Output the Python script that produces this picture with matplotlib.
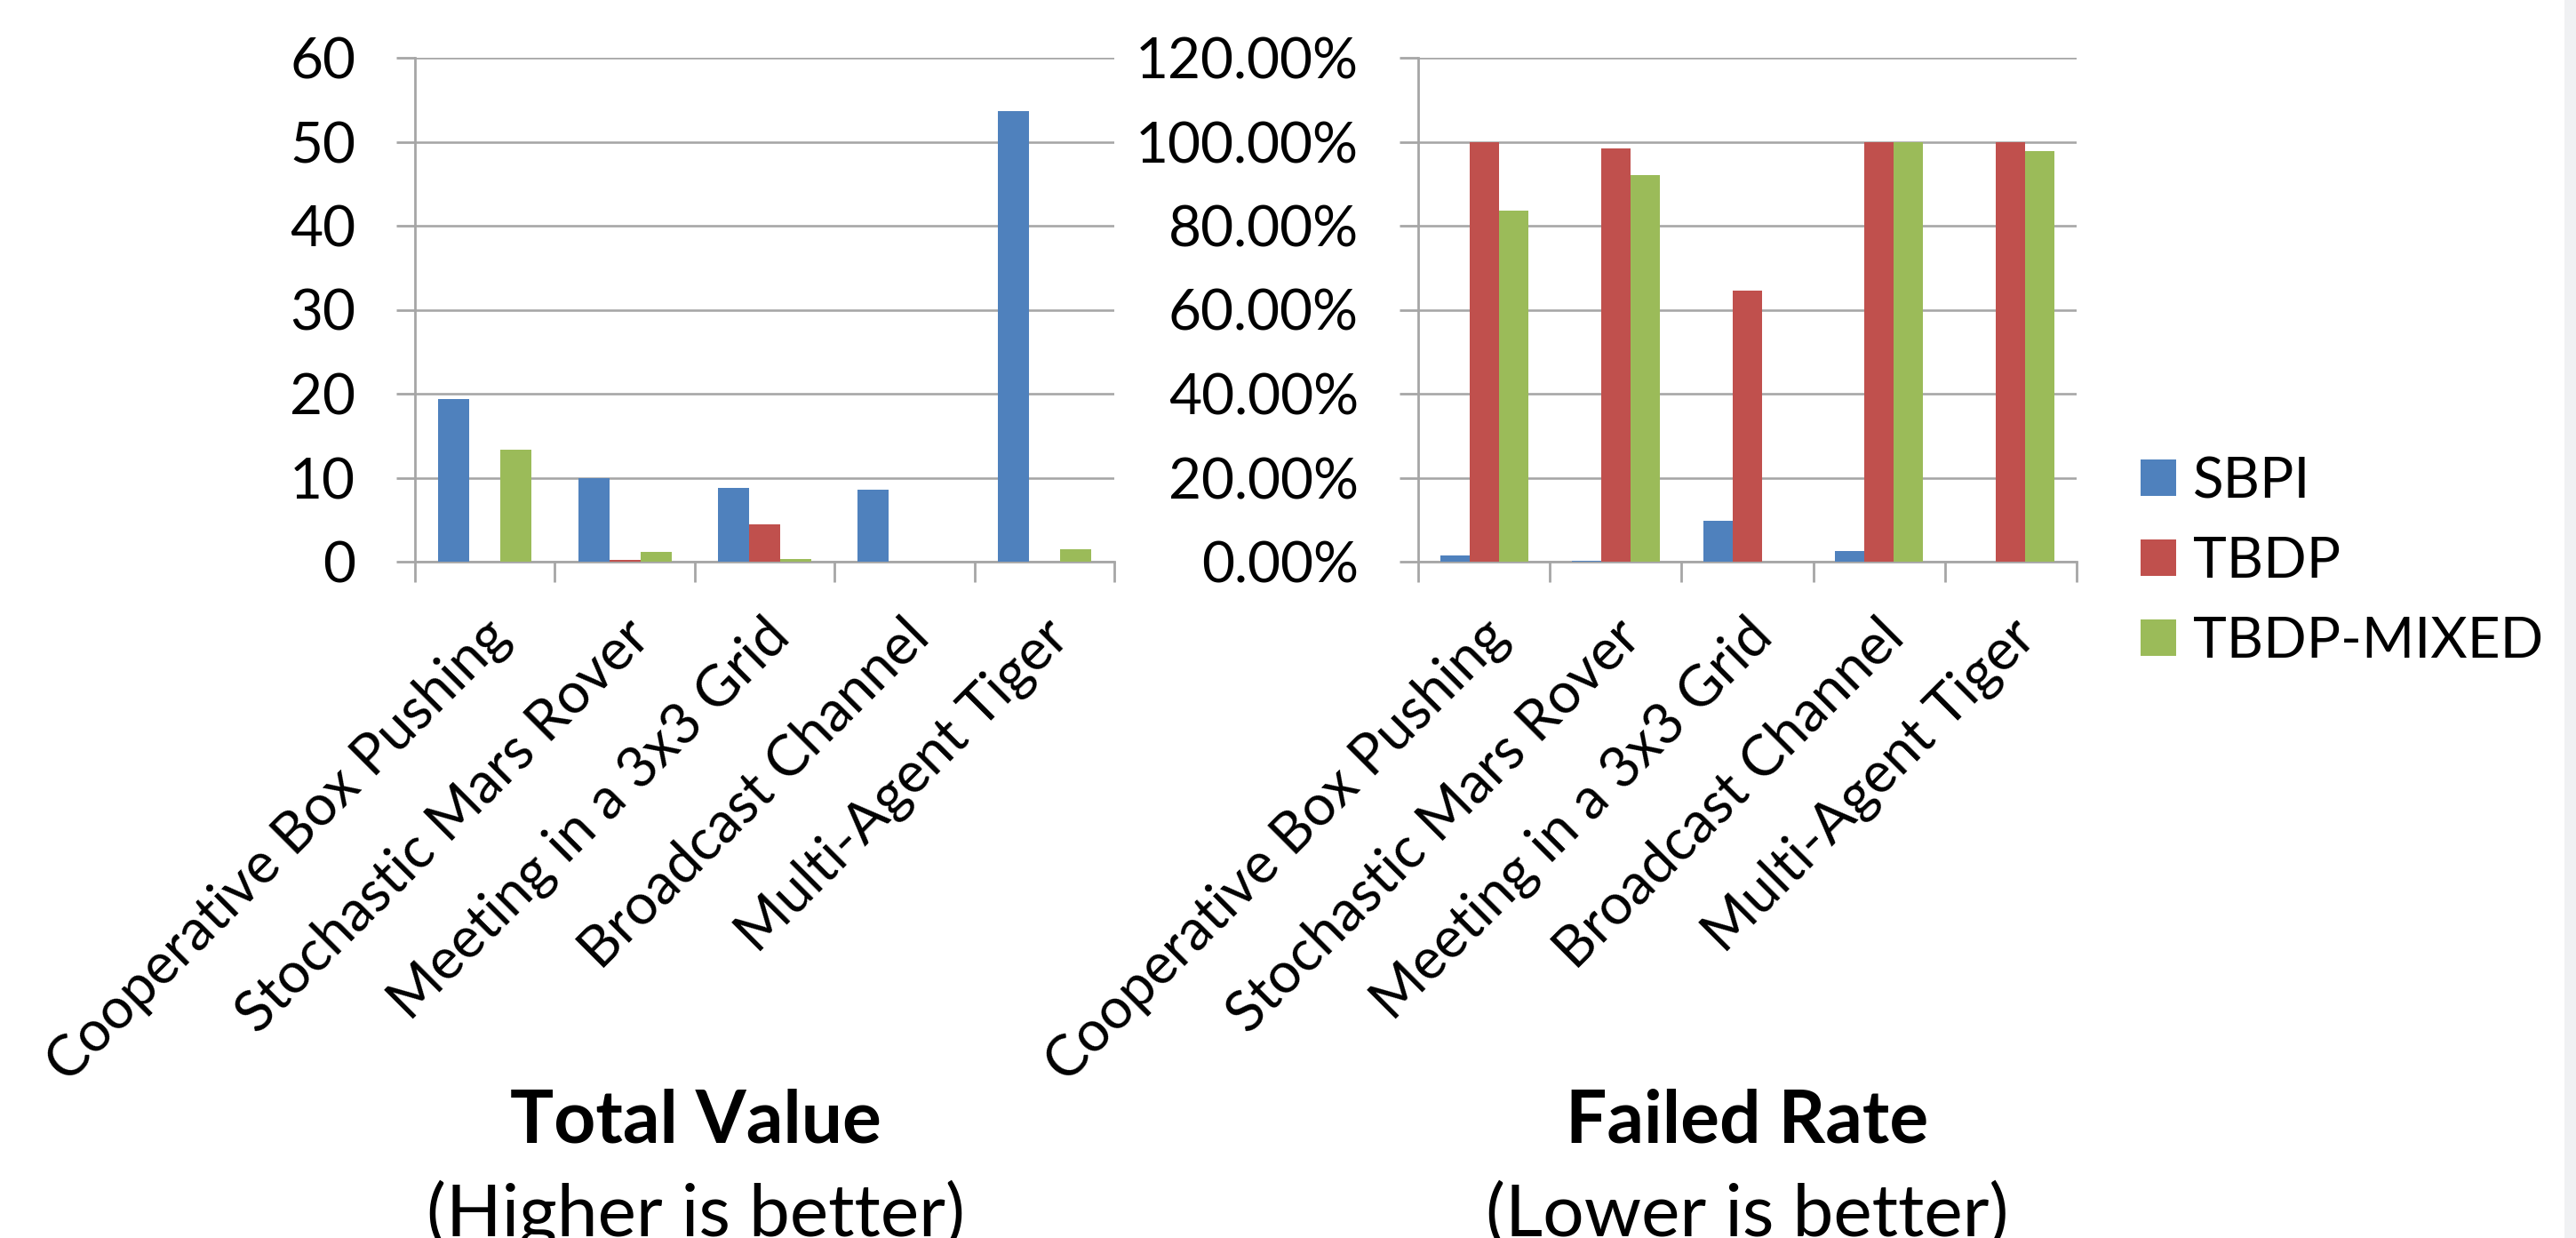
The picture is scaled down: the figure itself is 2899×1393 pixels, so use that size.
import matplotlib
matplotlib.use("Agg")
import matplotlib.pyplot as plt
from matplotlib.patches import Patch, Rectangle
from matplotlib.ticker import FuncFormatter, FixedLocator
import numpy as np

plt.rcParams['font.family'] = ['Lato', 'DejaVu Sans']

# ---- data ----
domains = ["Cooperative Box Pushing", "Stochastic Mars Rover",
           "Meeting in a 3x3 Grid", "Broadcast Channel", "Multi-Agent Tiger"]
series_names = ["SBPI", "TBDP", "TBDP-MIXED"]

total_sbpi = [19.4, 10.0, 8.8, 8.6, 53.6]
total_tbdp = [0.0, 0.18, 4.4, 0.0, 0.0]
total_mixed = [13.3, 1.15, 0.3, 0.0, 1.45]

fail_sbpi = [0.015, 0.003, 0.098, 0.026, 0.0]
fail_tbdp = [1.0, 0.985, 0.645, 1.0, 1.0]
fail_mixed = [0.835, 0.92, 0.0, 1.0, 0.978]

total_ticks = [0, 10, 20, 30, 40, 50, 60]
fail_ticks = [0.0, 0.2, 0.4, 0.6, 0.8, 1.0, 1.2]

colors = ["#4F81BD", "#C0504D", "#9BBB59"]
grid_gray = "#A6A6A6"

W, H = 2899, 1393
DPI = 100
fig = plt.figure(figsize=(W / DPI, H / DPI), dpi=DPI)
fig.patch.set_facecolor("white")

FS = 46          # tick / legend font size (pt)
PX = 72 / DPI    # points per pixel


def fig_rect(x0, x1, y_top, y_bot):
    return [x0 / W, 1 - y_bot / H, (x1 - x0) / W, (y_bot - y_top) / H]


def style_axes(ax, ticks, fmt):
    n = len(domains)
    x = np.arange(n)
    ax.set_xlim(-0.5, n - 0.5)
    ax.set_ylim(ticks[0], ticks[-1])
    ax.yaxis.set_major_locator(FixedLocator(ticks))
    ax.yaxis.set_major_formatter(FuncFormatter(fmt))
    ax.grid(axis="y", color=grid_gray, linewidth=2.6 * PX * 1.0 / PX * 0.72)
    ax.set_axisbelow(True)
    for s in ("top", "right"):
        ax.spines[s].set_visible(False)
    for s in ("left", "bottom"):
        ax.spines[s].set_color(grid_gray)
        ax.spines[s].set_linewidth(2.0)
    # boundaries between categories get the outward tick marks
    ax.set_xticks(np.arange(n + 1) - 0.5)
    ax.set_xticklabels([])
    ax.tick_params(axis="x", direction="out", length=23 * PX, width=2.0,
                   color=grid_gray)
    ax.tick_params(axis="y", direction="out", length=21 * PX, width=2.0,
                   color=grid_gray, labelsize=FS, pad=46 * PX)
    for i, name in enumerate(domains):
        ax.annotate(name, xy=(x[i], 0), xycoords=("data", "axes fraction"),
                    xytext=(18 * PX, -75 * PX), textcoords="offset points",
                    rotation=45, rotation_mode="anchor",
                    ha="right", va="center", fontsize=FS)


def draw_bars(ax, series):
    x = np.arange(len(domains))
    w = 1 / 4.5
    for k, (vals, c) in enumerate(zip(series, colors)):
        ax.bar(x + (k - 1) * w, vals, width=w, color=c, linewidth=0,
               label=series_names[k], zorder=3)


ax1 = fig.add_axes(fig_rect(467, 1254, 65, 632))
draw_bars(ax1, [total_sbpi, total_tbdp, total_mixed])
style_axes(ax1, total_ticks, lambda v, p: f"{v:.0f}")

ax2 = fig.add_axes(fig_rect(1596, 2337, 65, 632))
draw_bars(ax2, [fail_sbpi, fail_tbdp, fail_mixed])
style_axes(ax2, fail_ticks, lambda v, p: f"{v * 100:.2f}%")

# panel titles
for cx, title, sub in [(783, "Total Value", "(Higher is better)"),
                       (1966, "Failed Rate", "(Lower is better)")]:
    fig.text(cx / W, 1 - 1286 / H, title, ha="center", va="baseline",
             fontsize=59, fontweight="bold")
    fig.text(cx / W, 1 - 1391 / H, sub, ha="center", va="baseline",
             fontsize=59)

# legend
handles = [Patch(facecolor=c, edgecolor="none") for c in colors]
fig.legend(handles, series_names, loc="center left",
           bbox_to_anchor=(2409 / W, 1 - 632 / H), frameon=False,
           fontsize=FS, handlelength=0.63, handleheight=0.63,
           handletextpad=0.3, labelspacing=0.5, borderpad=0,
           borderaxespad=0)

# light strip along the right edge
fig.add_artist(Rectangle((2886 / W, 0), 1 - 2886 / W, 1,
                         transform=fig.transFigure, facecolor="#F0F1F3",
                         edgecolor="none", zorder=0))

fig.savefig("out.png", dpi=DPI)
